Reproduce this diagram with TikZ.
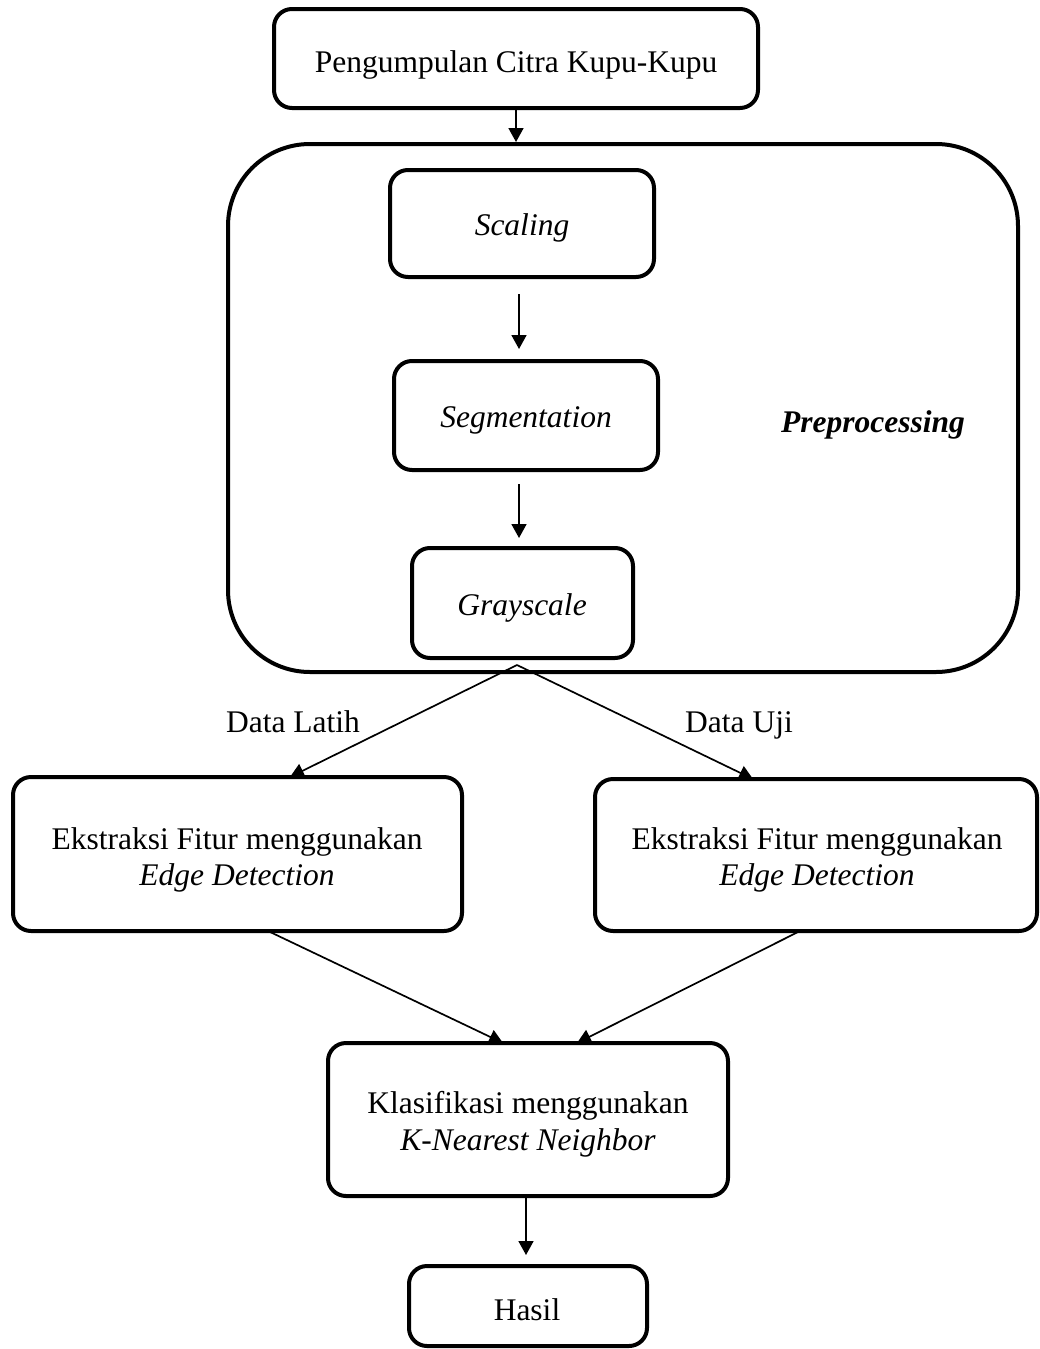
\documentclass[tikz,border=0pt]{standalone}
\usepackage{fontspec}
\setmainfont{Liberation Serif}
\usetikzlibrary{arrows.meta}
\begin{document}
\begin{tikzpicture}[x=1pt,y=-1pt,
  box/.style={draw=black, line width=4pt, rounded corners=18pt, rectangle, inner sep=0pt},
  bigbox/.style={draw=black, line width=4pt, rounded corners=82pt, rectangle, inner sep=0pt},
  txt/.style={anchor=base, inner sep=0pt, font=\fontsize{31.5}{37}\selectfont},
  itxt/.style={txt, font=\fontsize{31.5}{37}\selectfont\itshape},
  arr/.style={line width=1.7pt, -{Triangle[length=14pt,width=15pt]}}]
\useasboundingbox (0,0) rectangle (1039,1349);

% boxes
\node[box, minimum width=484pt, minimum height=99pt] (top) at (516,58.5) {};
\node[bigbox, minimum width=790pt, minimum height=528pt] (big) at (623,408) {};
\node[box, minimum width=264pt, minimum height=107pt] (scal) at (522,223.5) {};
\node[box, minimum width=264pt, minimum height=109pt] (seg) at (526,415.5) {};
\node[box, minimum width=221pt, minimum height=110pt] (gray) at (522.5,603) {};
\node[box, minimum width=449pt, minimum height=154pt] (ekL) at (237.5,854) {};
\node[box, minimum width=442pt, minimum height=152pt] (ekR) at (816,855) {};
\node[box, minimum width=400pt, minimum height=153pt] (kl) at (528,1119.5) {};
\node[box, minimum width=238pt, minimum height=80pt] (hasil) at (528,1306) {};

% texts
\node[txt] (ttop) at (516,72) {Pengumpulan Citra Kupu-Kupu};
\node[itxt] (tscal) at (522,235) {Scaling};
\node[itxt] (tseg) at (526,427) {Segmentation};
\node[itxt] (tgray) at (522,615) {Grayscale};
\node[itxt, font=\fontsize{31.5}{37}\selectfont\bfseries\itshape] (tpre) at (873,432) {Preprocessing};
\node[txt] (tlatih) at (293,732) {Data Latih};
\node[txt] (tuji) at (739,732) {Data Uji};
\node[txt] (tekL1) at (237,849) {Ekstraksi Fitur menggunakan};
\node[itxt] (tekL2) at (237,885) {Edge Detection};
\node[txt] (tekR1) at (817,849) {Ekstraksi Fitur menggunakan};
\node[itxt] (tekR2) at (817,885) {Edge Detection};
\node[txt] (tkl1) at (528,1113) {Klasifikasi menggunakan};
\node[itxt] (tkl2) at (528,1150) {K-Nearest Neighbor};
\node[txt] (thasil) at (527,1320) {Hasil};

% connectors
\coordinate (split) at (517,665);
\coordinate (ekLin) at (290,777);
\coordinate (ekRin) at (753,779);
\coordinate (ekLout) at (268,931);
\coordinate (ekRout) at (800,931);
\coordinate (klinL) at (503,1043);
\coordinate (klinR) at (577,1043);

\draw[arr] (top.south) -- (top.south |- big.north);
\draw[arr, shorten <=15pt, shorten >=10pt] ([xshift=-3pt]scal.south) -- ([xshift=-3pt]scal.south |- seg.north);
\draw[arr, shorten <=12pt, shorten >=8pt] ([xshift=-7pt]seg.south) -- ([xshift=-7pt]seg.south |- gray.north);
\draw[arr] (split) -- (ekLin);
\draw[arr] (split) -- (ekRin);
\draw[arr] (ekLout) -- (klinL);
\draw[arr] (ekRout) -- (klinR);
\draw[arr, shorten >=9pt] ([xshift=-2pt]kl.south) -- ([xshift=-2pt]kl.south |- hasil.north);
\end{tikzpicture}
\end{document}
